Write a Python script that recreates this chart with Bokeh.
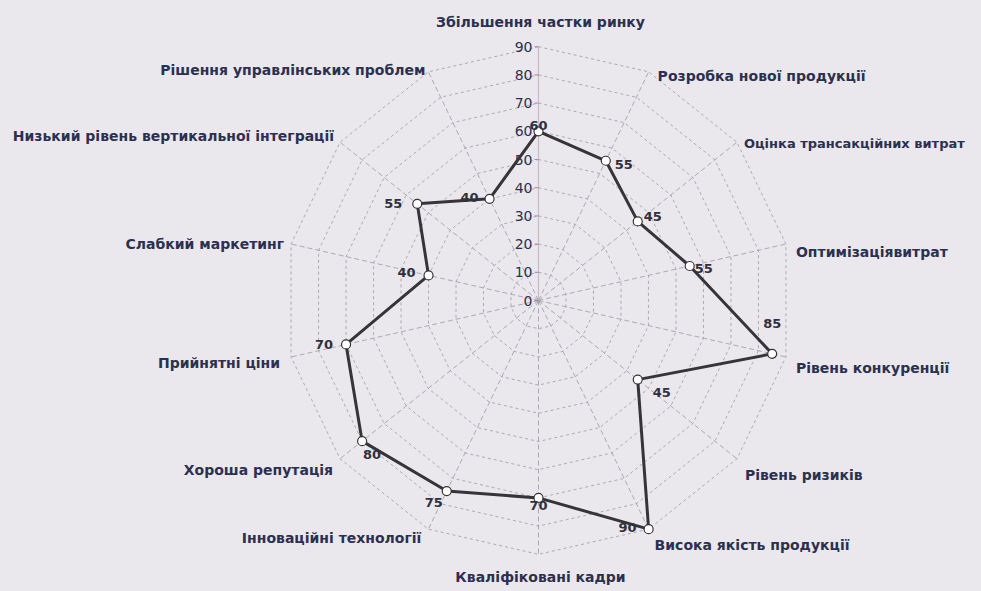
import math
from bokeh.plotting import figure
from bokeh.models import ColumnDataSource, Range1d
from bokeh.core.properties import value
from bokeh.embed import file_html
from bokeh.resources import INLINE

# ---- data ----
categories = [
    "Збільшення частки ринку",
    "Розробка нової продукції",
    "Оцінка трансакційних витрат",
    "Оптимізаціявитрат",
    "Рівень конкуренції",
    "Рівень ризиків",
    "Висока якість продукції",
    "Кваліфіковані кадри",
    "Інноваційні технології",
    "Хороша репутація",
    "Прийнятні ціни",
    "Слабкий маркетинг",
    "Низький рівень вертикальної інтеграції",
    "Рішення управлінських проблем",
]
values = [60, 55, 45, 55, 85, 45, 90, 70, 75, 80, 70, 40, 55, 40]
ticks = [0, 10, 20, 30, 40, 50, 60, 70, 80, 90]
tick_labels = ["0", "10", "20", "30", "40", "50", "60", "70", "80", "90"]

# ---- layout (pixel offsets / sizes of texts) ----
cat_offsets = [(2, -25), (9, 4), (7, 1), (10, 8), (10, 11), (8, 16), (6, 16),
               (2, 23), (-7, 9), (-7, 11), (-11, 6), (-7, 0), (-6, -6), (-3, -2)]
cat_sizes = ["14px", "14px", "13px"] + ["14px"] * 11
val_offsets = [(0, -6), (18, 4), (15, -5), (14, 3), (0, -30), (24, 13), (-21, -2),
               (0, 8), (-13, 11), (10, 13), (-22, 0), (-22, -3), (-24, 0), (-20, -1)]

W, H = 981, 591
S = 2.82           # px per unit
CX, CY = 538, 300  # centre in canvas px
BG = "#eae8ec"
TXT = "#2c3050"

n = len(categories)
ang = [2 * math.pi * i / n for i in range(n)]
RMAX = max(ticks)

p = figure(width=W, height=H, output_backend="svg", toolbar_location=None,
           x_range=Range1d(-CX / S, (W - CX) / S),
           y_range=Range1d(-(H - CY) / S, CY / S),
           min_border=0)
p.axis.visible = False
p.grid.visible = False
p.outline_line_color = None
p.background_fill_color = BG
p.border_fill_color = BG

# rings
rxs, rys = [], []
for r in ticks[1:]:
    rxs.append([r * math.sin(a) for a in ang] + [0])
    rys.append([r * math.cos(a) for a in ang] + [r])
p.multi_line(rxs, rys, line_color="#9c9aa4", line_width=1, line_dash="3 3", line_alpha=0.8)

# spokes
sx = [[0, RMAX * math.sin(a)] for a in ang[1:]]
sy = [[0, RMAX * math.cos(a)] for a in ang[1:]]
p.multi_line(sx, sy, line_color="#9c9aa4", line_width=1, line_dash="5 3", line_alpha=0.8)

# value axis along the top spoke
p.line([0, 0], [0, RMAX], line_color="#c9b9cc", line_width=1.2)
tk = 4 / S
p.segment(x0=[-tk] * len(ticks), y0=ticks, x1=[0] * len(ticks), y1=ticks,
          line_color="#9a90a0", line_width=1)
p.text(x=[0] * len(ticks), y=ticks, text=tick_labels, x_offset=-6,
       text_align="right", text_baseline="middle", text_font=value("DejaVu Sans"),
       text_font_size="14px", text_color=TXT)

# series
px = [v * math.sin(a) for v, a in zip(values, ang)]
py = [v * math.cos(a) for v, a in zip(values, ang)]
p.line(px + [px[0]], py + [py[0]], line_color="#353538", line_width=3)
p.scatter(px, py, size=9, fill_color="white", line_color="#353538", line_width=1.2)

vsrc = ColumnDataSource(dict(x=px, y=py, t=[str(v) for v in values],
                             dx=[o[0] for o in val_offsets], dy=[o[1] for o in val_offsets]))
p.text(x="x", y="y", text="t", x_offset="dx", y_offset="dy", source=vsrc,
       text_align="center", text_baseline="middle", text_font=value("DejaVu Sans"),
       text_font_size="13px", text_font_style="bold", text_color="#303040")

# category labels
cx = [RMAX * math.sin(a) for a in ang]
cy = [RMAX * math.cos(a) for a in ang]
aligns = []
for a in ang:
    s = math.sin(a)
    aligns.append("center" if abs(s) < 1e-6 else ("left" if s > 0 else "right"))
csrc = ColumnDataSource(dict(x=cx, y=cy, t=categories, al=aligns, fs=cat_sizes,
                             dx=[o[0] for o in cat_offsets], dy=[o[1] for o in cat_offsets]))
p.text(x="x", y="y", text="t", x_offset="dx", y_offset="dy", text_align="al", source=csrc,
       text_baseline="middle", text_font=value("DejaVu Sans"), text_font_size="fs",
       text_font_style="bold", text_color=TXT)

html = file_html(p, INLINE)
style = "<style>html,body{margin:0;padding:0;background:%s;overflow:hidden}</style>" % BG
html = html.replace("</head>", style + "</head>", 1)
open("out.html", "w").write(html)
